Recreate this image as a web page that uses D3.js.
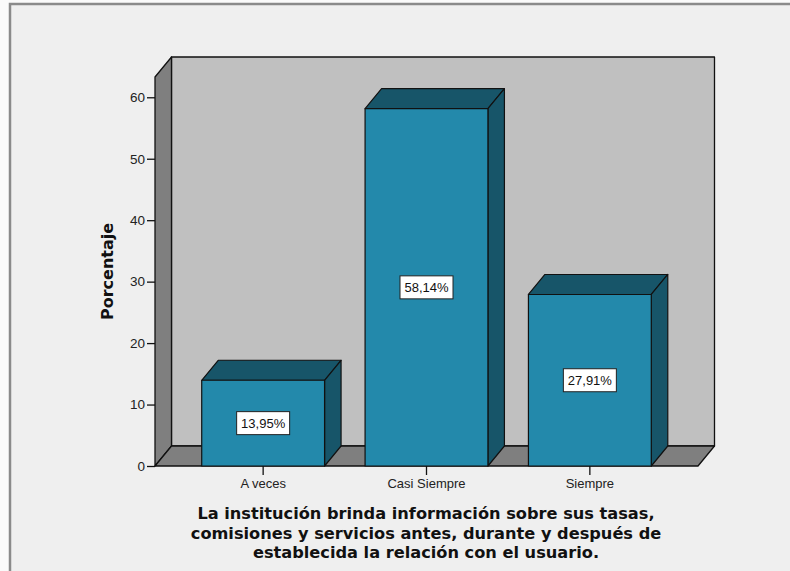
<!DOCTYPE html>
<html>
<head>
<meta charset="utf-8">
<script src="https://cdn.jsdelivr.net/npm/d3@7"></script>
<style>
  body { margin: 0; background: #fafafa; }
  svg { display: block; }
</style>
</head>
<body>
<svg id="graf" width="790" height="571"></svg>
<script>
let categorias = ['A veces', 'Casi Siempre', 'Siempre']
let porcentajes = [13.95, 58.14, 27.91]
let ticksY = [0, 10, 20, 30, 40, 50, 60]
let tituloY = 'Porcentaje'
let tituloX = [
  'La institución brinda información sobre sus tasas,',
  'comisiones y servicios antes, durante y después de',
  'establecida la relación con el usuario.'
]

function graficar() {
  let width = 790
  let height = 571
  // profundidad del efecto 3D
  let dx = 16.5
  let dy = -20

  let datos = categorias.map((c, i) => ({ cat: c, valor: porcentajes[i] }))

  let x = d3.scaleBand()
            .domain(categorias)
            .range([155, 698])
            .paddingInner(0.248)
            .paddingOuter(0.286)

  let y = d3.scaleLinear()
            .domain([0, 63.3])
            .range([466, 77])

  let svg = d3.select('#graf')

  // fondo y marco
  svg.append('rect')
    .attr('x', 9).attr('y', 3)
    .attr('width', width).attr('height', height)
    .style('fill', '#efefef')
  svg.append('path')
    .attr('d', `M10,${height} V4 H${width}`)
    .style('fill', 'none')
    .style('stroke', '#8a8a8a')
    .style('stroke-width', 2.5)

  let x0 = x.range()[0]
  let x1 = x.range()[1]
  let yb = y(0)
  let yt = y.range()[1]
  let pts = p => p.map(d => d.join(',')).join(' ')

  let walls = svg.append('g')
    .style('stroke', '#111')
    .style('stroke-width', 1.3)
    .style('stroke-linejoin', 'round')

  // pared del fondo
  walls.append('polygon')
    .attr('points', pts([[x0 + dx, yt + dy], [x1 + dx, yt + dy], [x1 + dx, yb + dy], [x0 + dx, yb + dy]]))
    .style('fill', '#c0c0c0')
  // pared lateral
  walls.append('polygon')
    .attr('points', pts([[x0, yb], [x0, yt], [x0 + dx, yt + dy], [x0 + dx, yb + dy]]))
    .style('fill', '#7f7f7f')
  // piso
  walls.append('polygon')
    .attr('points', pts([[x0, yb], [x1, yb], [x1 + dx, yb + dy], [x0 + dx, yb + dy]]))
    .style('fill', '#7f7f7f')

  // barras
  let g = svg.selectAll('.barra')
    .data(datos)
    .enter().append('g')
    .attr('class', 'barra')
    .style('stroke', '#111')
    .style('stroke-width', 1.2)
    .style('stroke-linejoin', 'round')

  g.append('polygon')
    .attr('points', d => {
      let l = x(d.cat), r = x(d.cat) + x.bandwidth(), t = y(d.valor)
      return pts([[l, t], [l + dx, t + dy], [r + dx, t + dy], [r, t]])
    })
    .style('fill', '#175569')
  g.append('polygon')
    .attr('points', d => {
      let r = x(d.cat) + x.bandwidth(), t = y(d.valor)
      return pts([[r, t], [r + dx, t + dy], [r + dx, yb + dy], [r, yb]])
    })
    .style('fill', '#175569')
  g.append('rect')
    .attr('x', d => x(d.cat))
    .attr('y', d => y(d.valor))
    .attr('width', x.bandwidth())
    .attr('height', d => yb - y(d.valor))
    .style('fill', '#2389ab')

  // etiquetas de valor
  let etiquetas = svg.selectAll('.etiqueta')
    .data(datos)
    .enter().append('g')
    .attr('class', 'etiqueta')
    .attr('transform', d => `translate(${x(d.cat) + x.bandwidth() / 2}, ${(y(d.valor) + yb) / 2})`)
  etiquetas.append('rect')
    .attr('x', -26.5).attr('y', -11.5)
    .attr('width', 53).attr('height', 23)
    .style('fill', '#fff')
    .style('stroke', '#222')
    .style('stroke-width', 1)
  etiquetas.append('text')
    .attr('text-anchor', 'middle')
    .attr('dy', '0.36em')
    .style('font-family', 'Liberation Sans, Arial, sans-serif')
    .style('font-size', '13px')
    .style('fill', '#111')
    .text(d => d.valor.toFixed(2).replace('.', ',') + '%')

  // eje Y
  let ejeY = svg.append('g')
    .attr('transform', `translate(${x0}, 0)`)
    .call(d3.axisLeft(y).tickValues(ticksY).tickSize(8).tickPadding(2))
  ejeY.select('.domain').remove()
  ejeY.selectAll('line').style('stroke', '#111').style('stroke-width', 1.3)
  ejeY.selectAll('text')
    .style('font-family', 'Liberation Sans, Arial, sans-serif')
    .style('font-size', '13.5px')
    .style('fill', '#222')

  // eje X
  let ejeX = svg.append('g')
    .attr('transform', `translate(0, ${yb})`)
    .call(d3.axisBottom(x).tickSize(9).tickPadding(4))
  ejeX.select('.domain').remove()
  ejeX.selectAll('line').style('stroke', '#111').style('stroke-width', 1.3)
  ejeX.selectAll('text')
    .style('font-family', 'Liberation Sans, Arial, sans-serif')
    .style('font-size', '13px')
    .style('fill', '#222')

  // títulos
  svg.append('text')
    .attr('transform', `translate(113, ${(yb + yt) / 2}) rotate(-90)`)
    .attr('text-anchor', 'middle')
    .style('font-family', 'DejaVu Sans, sans-serif')
    .style('font-weight', 'bold')
    .style('font-size', '16px')
    .style('fill', '#111')
    .text(tituloY)

  svg.append('text')
    .attr('text-anchor', 'middle')
    .style('font-family', 'DejaVu Sans, sans-serif')
    .style('font-weight', 'bold')
    .style('font-size', '16.2px')
    .style('fill', '#111')
    .selectAll('tspan')
    .data(tituloX)
    .enter().append('tspan')
    .attr('x', 426)
    .attr('y', (d, i) => 519 + i * 19.5)
    .text(d => d)
}

graficar()
</script>
</body>
</html>
